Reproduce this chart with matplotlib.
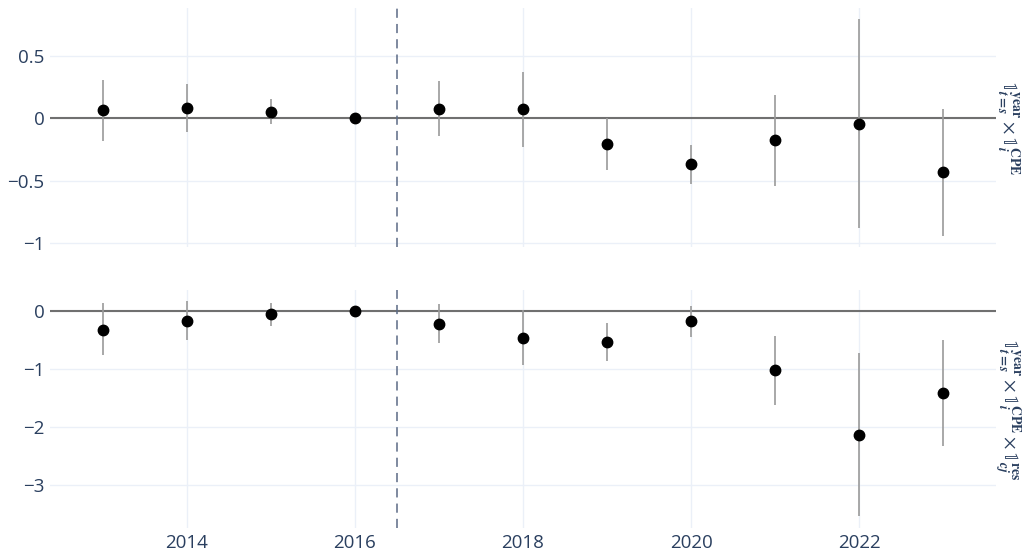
import matplotlib
matplotlib.use("Agg")
import matplotlib.pyplot as plt

# event-study coefficients
years = [2013, 2014, 2015, 2016, 2017, 2018, 2019, 2020, 2021, 2022, 2023]

# top panel: year x CPE
top_coef = [0.064, 0.083, 0.053, 0.0, 0.078, 0.072, -0.209, -0.369, -0.176, -0.043, -0.430]
top_hi = [0.307, 0.275, 0.152, 0.0, 0.300, 0.374, 0.000, -0.214, 0.187, 0.794, 0.075]
top_lo = [-0.180, -0.107, -0.046, 0.0, -0.142, -0.227, -0.414, -0.527, -0.540, -0.877, -0.939]

# bottom panel: year x CPE x res
bot_coef = [-0.326, -0.171, -0.063, 0.0, -0.229, -0.463, -0.537, -0.183, -1.023, -2.126, -1.411]
bot_hi = [0.126, 0.171, 0.126, 0.0, 0.109, 0.011, -0.217, 0.080, -0.434, -0.731, -0.497]
bot_lo = [-0.766, -0.509, -0.257, 0.0, -0.554, -0.926, -0.857, -0.446, -1.617, -3.531, -2.326]

top_label = (r"$\mathbb{1}^{\mathbf{year}}_{\boldsymbol{t=s}}\times"
             r"\mathbb{1}^{\mathbf{CPE}}_{\boldsymbol{i}}$")
bot_label = (r"$\mathbb{1}^{\mathbf{year}}_{\boldsymbol{t=s}}\times"
             r"\mathbb{1}^{\mathbf{CPE}}_{\boldsymbol{i}}\times"
             r"\mathbb{1}^{\mathbf{res}}_{\boldsymbol{cj}}$")

plt.rcParams["font.family"] = ["Open Sans", "DejaVu Sans"]
plt.rcParams["mathtext.fontset"] = "stix"

grid_c = "#EBF0F8"
text_c = "#2a3f5f"

fig = plt.figure(figsize=(10.25, 5.5), dpi=100)
ax1 = fig.add_axes([0.0488, 0.5509, 0.9229, 0.4345])
ax2 = fig.add_axes([0.0488, 0.0400, 0.9229, 0.4327])


def draw_panel(ax, coef, hi, lo, ylim, yticks, ylabels, label, show_x):
    ax.set_xlim(2012.37, 2023.63)
    ax.set_ylim(*ylim)
    ax.set_xticks([2014, 2016, 2018, 2020, 2022])
    ax.set_yticks(yticks)
    ax.set_yticklabels(ylabels)
    ax.grid(True, color=grid_c, lw=1)
    ax.set_axisbelow(True)
    for s in ax.spines.values():
        s.set_visible(False)
    ax.tick_params(length=0, labelsize=13.5, colors=text_c, pad=4)
    if not show_x:
        ax.tick_params(axis="x", labelbottom=False)
    ax.axhline(0, color="#707070", lw=1.5, zorder=1)
    ax.axvline(2016.5, color="#5b6a85", lw=1.1, dashes=(6, 4), zorder=1)
    err_lo = [c - l for c, l in zip(coef, lo)]
    err_hi = [h - c for c, h in zip(coef, hi)]
    ax.errorbar(years, coef, yerr=[err_lo, err_hi], fmt="o", color="black",
                ms=7.5, ecolor="#9a9a9a", elinewidth=1.2, capsize=0, zorder=3)
    ax.text(1.0125, 0.5, label, transform=ax.transAxes, rotation=-90,
            ha="center", va="center", fontsize=14, color=text_c)


draw_panel(ax1, top_coef, top_hi, top_lo, (-1.031, 0.884),
           [-1, -0.5, 0, 0.5], ["\u22121", "\u22120.5", "0", "0.5"], top_label, False)
draw_panel(ax2, bot_coef, bot_hi, bot_lo, (-3.73, 0.355),
           [-3, -2, -1, 0], ["\u22123", "\u22122", "\u22121", "0"], bot_label, True)

fig.savefig("out.png", dpi=100)
